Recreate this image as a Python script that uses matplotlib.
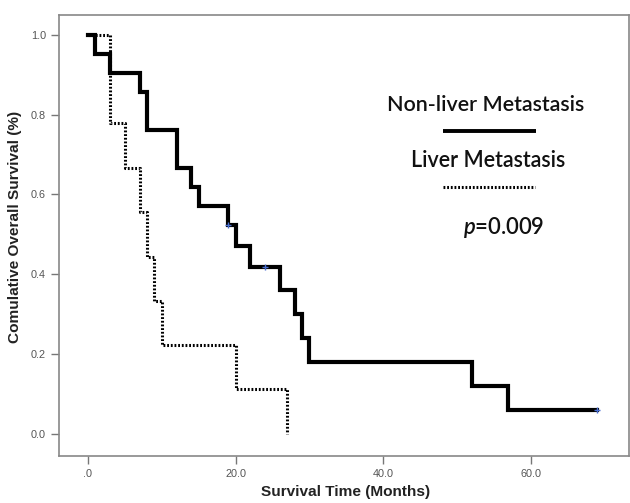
import matplotlib
matplotlib.use("Agg")
import matplotlib.pyplot as plt
from matplotlib.lines import Line2D

plt.rcParams['font.family'] = ['Liberation Sans', 'DejaVu Sans']
plt.rcParams['mathtext.fontset'] = 'custom'
plt.rcParams['mathtext.it'] = 'Lato:italic:semibold'
plt.rcParams['mathtext.rm'] = 'Lato:semibold'

# Non-liver metastasis (solid)
solid_t = [0, 1, 3, 7, 8, 12, 14, 15, 19, 20, 22, 26, 28, 29, 30, 52, 57, 69]
solid_s = [1.0, .952, .905, .857, .762, .667, .619, .571, .524, .471, .419,
           .359, .299, .239, .179, .120, .060, .060]
solid_cens_t = [19, 24, 69]
solid_cens_s = [.524, .419, .060]

# Liver metastasis (dotted)
dot_t = [0, 3, 5, 7, 8, 9, 10, 20, 27]
dot_s = [1.0, .778, .667, .556, .444, .333, .222, .111, 0.0]

xticks = [0, 20, 40, 60]
xticklabels = ['.0', '20.0', '40.0', '60.0']
yticks = [0.0, 0.2, 0.4, 0.6, 0.8, 1.0]
yticklabels = ['0.0', '0.2', '0.4', '0.6', '0.8', '1.0']

fig = plt.figure(figsize=(6.3, 5.03), dpi=100)
ax = fig.add_axes([0.094, 0.093, 0.904, 0.877])

ax.step(solid_t, solid_s, where='post', color='black', lw=3.0,
        solid_joinstyle='miter')
ax.step(dot_t, dot_s, where='post', color='black', lw=2.2,
        dashes=(0.6, 0.6), dash_capstyle='butt')
ax.plot(solid_cens_t, solid_cens_s, ls='none', marker='+', ms=5, mew=1,
        color='#4a6fd0', zorder=5)

ax.set_xlim(-3.9, 73.3)
ax.set_ylim(-0.057, 1.05)
ax.set_xticks(xticks)
ax.set_xticklabels(xticklabels)
ax.set_yticks(yticks)
ax.set_yticklabels(yticklabels)
ax.tick_params(direction='out', length=6, width=1, color='#777777',
               labelcolor='#555555', labelsize=7.8)
for sp in ax.spines.values():
    sp.set_color('#888888')
    sp.set_linewidth(1.2)

xl = ax.set_xlabel('Survival Time (Months)', fontsize=9.5, fontweight='bold',
                   color='#222222')
yl = ax.set_ylabel('Comulative Overall Survival (%)', fontsize=9.5,
                   fontweight='bold', color='#222222')
ax.xaxis.set_label_coords(0.503, -0.066)
ax.yaxis.set_label_coords(-0.066, 0.52)

# legend drawn as text + short lines (figure pixel coords)
W, H = 630, 503
t1 = fig.text(486 / W, 1 - 105 / H, 'Non-liver Metastasis', family='Lato',
              fontsize=13.5, fontweight='semibold', ha='center', va='center',
              color='#111111')
fig.add_artist(Line2D([443 / W, 536 / W], [1 - 131 / H, 1 - 131 / H],
                      color='black', lw=2.8, solid_capstyle='butt'))
t2 = fig.text(488 / W, 1 - 160 / H, 'Liver Metastasis', family='Lato',
              fontsize=13.5, fontweight='semibold', ha='center', va='center',
              color='#111111')
fig.add_artist(Line2D([443 / W, 535 / W], [1 - 187 / H, 1 - 187 / H],
                      color='black', lw=2.2, dashes=(0.6, 0.6),
                      dash_capstyle='butt'))
t3 = fig.text(504 / W, 1 - 227 / H, r'$p$=0.009', family='Lato',
              fontsize=13.5, fontweight='semibold', ha='center', va='center',
              color='#111111')

# scale text so its pixel width matches the reference
r = fig.canvas.get_renderer()
for t, w in [(t1, 198), (t2, 155), (t3, 82), (xl, 169)]:
    bb = t.get_window_extent(r)
    t.set_fontsize(t.get_fontsize() * w / bb.width)
yl.set_fontsize(xl.get_fontsize())

fig.savefig('out.png', dpi=100)
